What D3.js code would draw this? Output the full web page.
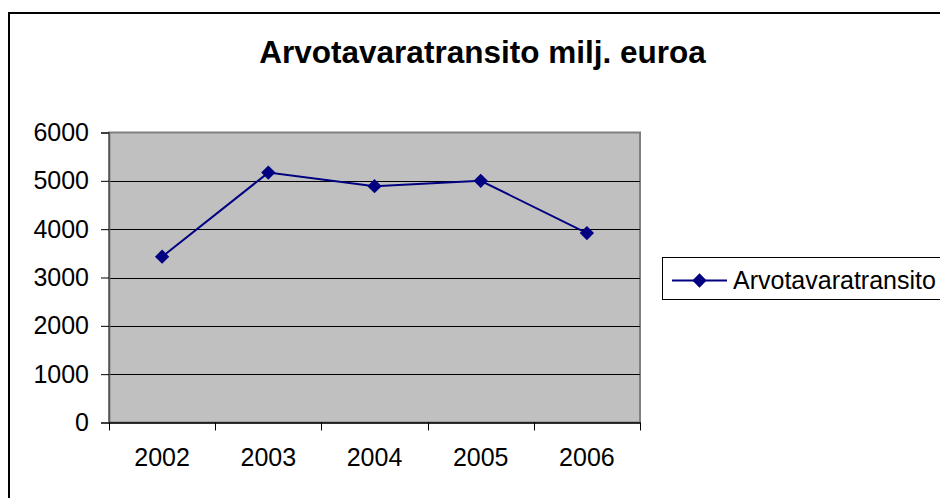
<!DOCTYPE html>
<html>
<head>
<meta charset="utf-8">
<script src="https://cdn.jsdelivr.net/npm/d3@7"></script>
<style>
  body { margin: 0; background: #fff; }
  svg { display: block; font-family: "Liberation Sans", Arial, sans-serif; }
</style>
</head>
<body>
<svg id="chart"></svg>
<script>
// chart data
const years = ["2002", "2003", "2004", "2005", "2006"];
const values = [3430, 5170, 4890, 5000, 3920];
const yTicks = [0, 1000, 2000, 3000, 4000, 5000, 6000];
const seriesName = "Arvotavaratransito";
const title = "Arvotavaratransito milj. euroa";

const width = 940, height = 498;
const svg = d3.select("#chart")
    .attr("width", width)
    .attr("height", height);

// outer frame (runs off the right and bottom edge like the original)
svg.append("rect")
    .attr("x", 9).attr("y", 13)
    .attr("width", 960).attr("height", 520)
    .attr("fill", "none")
    .attr("stroke", "#000")
    .attr("stroke-width", 2);

// plot area
const plot = { left: 109, top: 132.5, right: 640, bottom: 422.5 };

const x = d3.scaleBand()
    .domain(years)
    .range([plot.left, plot.right])
    .padding(0);

const y = d3.scaleLinear()
    .domain([0, 6000])
    .range([plot.bottom, plot.top]);

svg.append("rect")
    .attr("x", plot.left).attr("y", plot.top)
    .attr("width", plot.right - plot.left)
    .attr("height", plot.bottom - plot.top)
    .attr("fill", "#c0c0c0")
    .attr("stroke", "#808080")
    .attr("stroke-width", 2);

// horizontal gridlines
svg.append("g")
    .selectAll("line")
    .data(yTicks.filter(d => d > 0 && d < 6000))
    .join("line")
    .attr("x1", plot.left).attr("x2", plot.right)
    .attr("y1", d => Math.round(y(d)) + 0.5)
    .attr("y2", d => Math.round(y(d)) + 0.5)
    .attr("stroke", "#000")
    .attr("stroke-width", 1);

// y axis
const yAxis = svg.append("g")
    .attr("transform", `translate(${plot.left},0)`)
    .call(d3.axisLeft(y).tickValues(yTicks).tickSize(8).tickPadding(12).tickFormat(d3.format("d")));
yAxis.select(".domain").attr("stroke", "#555").attr("stroke-width", 1.5);
yAxis.selectAll(".tick line").attr("stroke", "#000");
yAxis.selectAll("text")
    .attr("font-size", 25)
    .attr("font-family", "Liberation Sans, Arial, sans-serif")
    .attr("fill", "#000");

// x axis labels
const xAxis = svg.append("g")
    .attr("transform", `translate(0,${plot.bottom})`)
    .call(d3.axisBottom(x).tickSize(0).tickPadding(26));
xAxis.select(".domain").attr("stroke", "#000").attr("stroke-width", 1.5);
xAxis.selectAll("text")
    .attr("font-size", 25)
    .attr("font-family", "Liberation Sans, Arial, sans-serif")
    .attr("fill", "#000");

// x category boundary ticks
const bounds = years.map(d => x(d)).concat([x.range()[1]]);
svg.append("g")
    .selectAll("line")
    .data(bounds)
    .join("line")
    .attr("x1", d => Math.round(d) + 0.5).attr("x2", d => Math.round(d) + 0.5)
    .attr("y1", plot.bottom).attr("y2", plot.bottom + 8)
    .attr("stroke", "#000");

// series line
const line = d3.line()
    .x((d, i) => x(years[i]) + x.bandwidth() / 2)
    .y(d => y(d));

svg.append("path")
    .datum(values)
    .attr("d", line)
    .attr("fill", "none")
    .attr("stroke", "#000080")
    .attr("stroke-width", 2);

const diamond = d3.symbol().type(d3.symbolDiamond2).size(130);
svg.append("g")
    .selectAll("path")
    .data(values)
    .join("path")
    .attr("d", diamond)
    .attr("transform", (d, i) => `translate(${x(years[i]) + x.bandwidth() / 2},${y(d)})`)
    .attr("fill", "#000080");

// title
svg.append("text")
    .attr("x", 482.5).attr("y", 63)
    .attr("text-anchor", "middle")
    .attr("font-size", 31.5)
    .attr("font-weight", "bold")
    .text(title);

// legend
const legend = svg.append("g");
legend.append("rect")
    .attr("x", 662.5).attr("y", 257.5)
    .attr("width", 300).attr("height", 42)
    .attr("fill", "#fff")
    .attr("stroke", "#000")
    .attr("stroke-width", 1);
legend.append("line")
    .attr("x1", 672).attr("x2", 727)
    .attr("y1", 280.5).attr("y2", 280.5)
    .attr("stroke", "#000080")
    .attr("stroke-width", 2);
legend.append("path")
    .attr("d", diamond)
    .attr("transform", "translate(699.5,280.5)")
    .attr("fill", "#000080");
legend.append("text")
    .attr("x", 733).attr("y", 289)
    .attr("font-size", 25)
    .text(seriesName);
</script>
</body>
</html>
